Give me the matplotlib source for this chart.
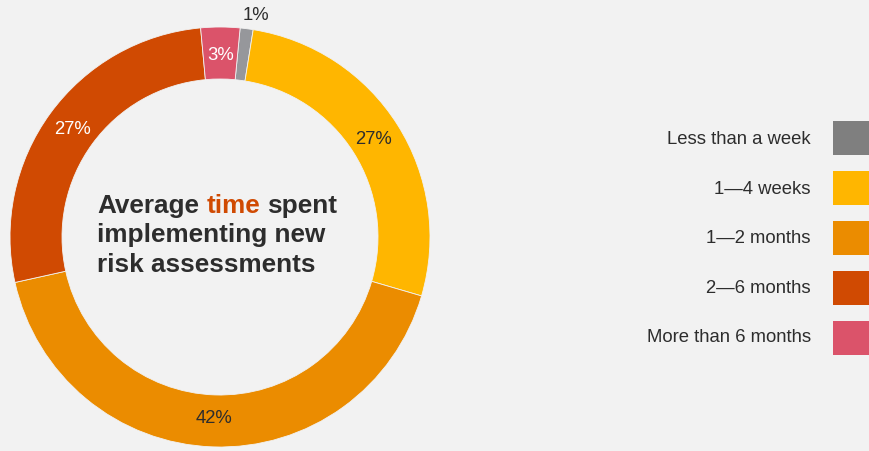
import matplotlib
matplotlib.use("Agg")
import matplotlib.pyplot as plt
from matplotlib.patches import Rectangle
import numpy as np

plt.rcParams['font.family'] = ['Liberation Sans', 'DejaVu Sans']

categories = ["Less than a week", "1\u20144 weeks", "1\u20142 months", "2\u20146 months", "More than 6 months"]
values = [1, 27, 42, 27, 3]
labels = ["1%", "27%", "42%", "27%", "3%"]
slice_colors = ["#96979b", "#ffb600", "#eb8c00", "#d04a02", "#db536a"]
legend_colors = ["#7f7f7f", "#ffb600", "#eb8c00", "#d04a02", "#db536a"]
label_colors = ["#2d2d2d", "#2d2d2d", "#2d2d2d", "#ffffff", "#ffffff"]

W, H = 869, 451
BG = "#f2f2f2"
fig = plt.figure(figsize=(W / 100, H / 100), dpi=100, facecolor=BG)
ax = fig.add_axes([0, 0, 1, 1])
ax.set_facecolor(BG)

cx, cy, R, ring = 220, H - 237, 210, 52
wedges, _ = ax.pie(values, colors=slice_colors, startangle=84.5, counterclock=False,
                   center=(cx, cy), radius=R,
                   wedgeprops=dict(width=ring, linewidth=0.6, edgecolor=BG))
ax.set_xlim(0, W)
ax.set_ylim(0, H)
ax.set_aspect('auto')
ax.axis('off')

# percentage labels
for i, w in enumerate(wedges):
    ang = np.deg2rad((w.theta1 + w.theta2) / 2)
    if values[i] < 2:
        r = R + 14
        ang -= np.deg2rad(2.0)
    else:
        r = R - ring / 2 - 2
    ax.text(cx + r * np.cos(ang), cy + r * np.sin(ang), labels[i], ha='center', va='center',
            fontsize=13.3, color=label_colors[i])

# centre title
tcol = "#2d2d2d"
fs = 18.8
x0 = 97
base_y = [H - 213, H - 242, H - 272]
fig.canvas.draw()
renderer = fig.canvas.get_renderer()

def width(s):
    t = ax.text(0, 0, s, fontsize=fs, fontweight='bold')
    w = t.get_window_extent(renderer).width
    t.remove()
    return w

ax.text(x0, base_y[0], "Average", fontsize=fs, fontweight='bold', color=tcol, va='baseline')
ax.text(x0 + width("Average time") - width("time"), base_y[0], "time", fontsize=fs,
        fontweight='bold', color="#d04a02", va='baseline')
ax.text(x0 + width("Average time spent") - width("spent"), base_y[0], "spent", fontsize=fs,
        fontweight='bold', color=tcol, va='baseline')
ax.text(x0, base_y[1], "implementing new", fontsize=fs, fontweight='bold', color=tcol, va='baseline')
ax.text(x0, base_y[2], "risk assessments", fontsize=fs, fontweight='bold', color=tcol, va='baseline')

# legend
for i, (c, col) in enumerate(zip(categories, legend_colors)):
    top = 121 + 50 * i
    ax.add_patch(Rectangle((833, H - top - 34), 40, 34, facecolor=col, edgecolor='none'))
    ax.text(811, H - (144 + 49.6 * i), c, ha='right', va='baseline', fontsize=13.3, color="#2d2d2d")

fig.savefig("out.png", dpi=100, facecolor=BG)
